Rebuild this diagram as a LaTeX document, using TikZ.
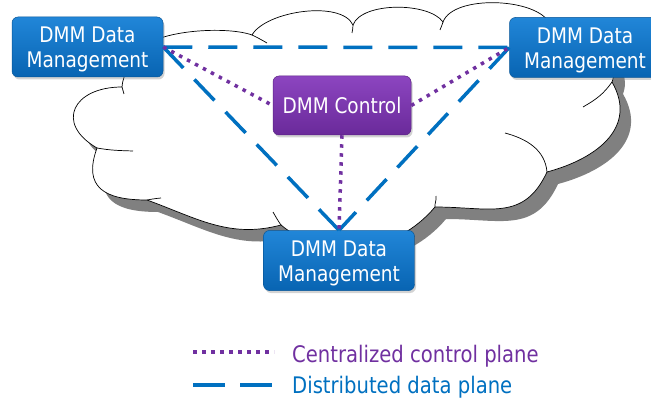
\documentclass[tikz,border=0pt]{standalone}
\usepackage{fontspec}
\newfontfamily\diagfont[FakeStretch=0.86]{DejaVu Sans}
\usetikzlibrary{shadows}

\definecolor{dataBlue}{HTML}{0070C0}
\definecolor{ctrlPurple}{HTML}{7030A0}
\definecolor{boxBlueTop}{HTML}{2186D8}
\definecolor{boxBlueBot}{HTML}{0864B2}
\definecolor{boxPurpTop}{HTML}{8C45C0}
\definecolor{boxPurpBot}{HTML}{6A2A9A}
\definecolor{cloudShade}{HTML}{808080}

% strut that pushes the first text line of a two-line box down a little
\newcommand\firststrut{\rule{0pt}{21pt}}

\tikzset{
  cloudshape/.pic={
    \path[pic actions]
      (140,-50) to[out=50,in=160,looseness=0.6] (252,-35)
      to[out=60,in=115,looseness=0.7] (353,-25)
      to[out=70,in=125,looseness=0.7] (443,-22)
      to[out=70,in=115,looseness=0.7] (550,-24)
      to[out=0,in=70] (612,-82)
      to[out=-60,in=15,looseness=1.2] (547,-172)
      to[out=245,in=0,looseness=1.2] (435,-207)
      to[out=230,in=-40] (281,-225)
      to[out=195,in=-20] (147,-200)
      to[out=180,in=250,looseness=1.5] (97,-148)
      to[out=150,in=180,looseness=1.9] (122,-87)
      to[out=85,in=240] cycle;
  },
  cloudtick/.style={draw=black, line width=0.7pt},
  boxbase/.style={rounded corners=6pt, inner sep=0pt, align=center,
    text=white, font=\diagfont\fontsize{21.5pt}{25pt}\selectfont,
    drop shadow={shadow xshift=1.5pt, shadow yshift=-2.5pt, opacity=0.35}},
  databox/.style={boxbase, minimum width=151pt, minimum height=60pt,
    top color=boxBlueTop, bottom color=boxBlueBot, draw=boxBlueBot!85!black, line width=0.5pt},
  ctrlbox/.style={boxbase, minimum width=138pt, minimum height=59pt,
    top color=boxPurpTop, bottom color=boxPurpBot, draw=boxPurpBot!85!black, line width=0.5pt},
  dataplane/.style={draw=dataBlue, line width=3.5pt, dash pattern=on 29pt off 16pt},
  ctrlplane/.style={draw=ctrlPurple, line width=3.5pt, dash pattern=on 3.5pt off 5.5pt},
  legendtext/.style={inner sep=0pt, anchor=base west,
    font=\diagfont\fontsize{22.8pt}{27pt}\selectfont},
}

\begin{document}
\begin{tikzpicture}[x=1pt, y=1pt]
  \useasboundingbox (0,0) rectangle (651,-401);
  \clip (0,0) rectangle (651,-401);

  % cloud: offset grey shadow, then the white body with its outline
  \pic[fill=cloudShade, draw=none] at (11,-12) {cloudshape};
  \pic[fill=white, draw=black, line width=0.7pt] at (0,0) {cloudshape};

  % inner arcs of the cloud
  \draw[cloudtick] (252,-35) to[out=-25,in=150] (267,-43);
  \draw[cloudtick] (353,-25) to[out=-75,in=95] (352,-33);
  \draw[cloudtick] (443,-22) to[out=-100,in=75] (440,-30);
  \draw[cloudtick] (612,-82) to[out=235,in=30] (583,-107);
  \draw[cloudtick] (547,-172) to[out=95,in=-15] (505,-133);
  \draw[cloudtick] (435,-207) to[out=95,in=-80] (436,-196);
  \draw[cloudtick] (281,-225) to[out=125,in=-60] (273,-212);
  \draw[cloudtick] (147,-200) to[out=10,in=185] (161,-198);
  \draw[cloudtick] (97,-148) to[out=-10,in=178] (133,-151);
  \draw[cloudtick] (122,-87) to[out=-80,in=100] (124,-94);

  % functional entities
  \node[databox] (dmL) at (87.5,-47) {\firststrut DMM Data\\Management};
  \node[databox] (dmR) at (585,-47.5) {\firststrut DMM Data\\Management};
  \node[ctrlbox] (ctl) at (342,-105.5) {\rule{0pt}{17pt}DMM Control};
  \node[databox] (dmB) at (339,-260.5) {\firststrut DMM Data\\Management};

  % distributed data plane
  \draw[dataplane] (dmL.east) -- (dmR.west);
  \draw[dataplane] (dmL.east) -- (dmB.north);
  \draw[dataplane] (dmR.west) -- (dmB.north);

  % centralized control plane
  \draw[ctrlplane] (dmL.east) -- (ctl.west);
  \draw[ctrlplane] (ctl.east) -- (dmR.west);
  \draw[ctrlplane] (ctl.south) -- (dmB.north);

  % legend
  \coordinate (lgCa) at (193,-352);
  \coordinate (lgCb) at (274,-352);
  \coordinate (lgDa) at (193,-385);
  \coordinate (lgDb) at (274,-385);
  \draw[ctrlplane] (lgCa) -- (lgCb);
  \draw[dataplane, dash pattern=on 32pt off 15pt] (lgDa) -- (lgDb);
  \node[legendtext, text=ctrlPurple] (lgCtext) at (292,-362) {Centralized control plane};
  \node[legendtext, text=dataBlue] (lgDtext) at (292,-393) {Distributed data plane};
\end{tikzpicture}
\end{document}
